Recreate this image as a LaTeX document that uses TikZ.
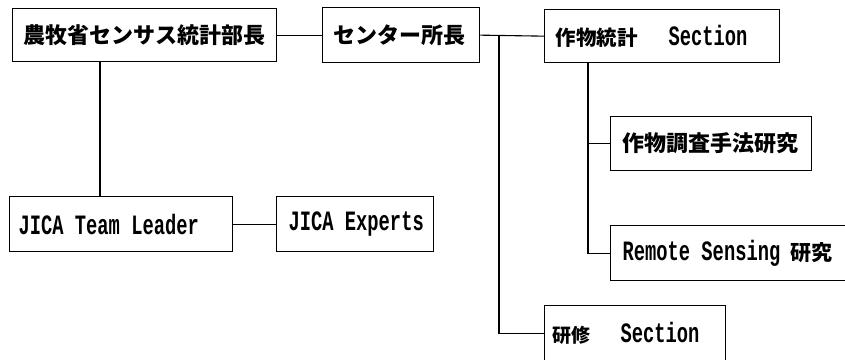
\documentclass[tikz,border=0pt]{standalone}
\usepackage{fontspec}
\newfontfamily\cjk{Noto Sans CJK JP}
\newfontfamily\latf[FakeStretch=0.67]{Liberation Mono}
\newcommand{\jtext}[2][22]{\mbox{\cjk\bfseries\fontsize{#1}{#1}\selectfont #2}}
\newcommand{\etext}[1]{\mbox{\latf\bfseries\fontsize{28}{28}\selectfont #1}}
\newcommand{\msp}{\hspace{11.3pt}}
\tikzset{
  box/.style 2 args={draw, line width=1.3pt, rectangle, anchor=north west,
    inner ysep=0pt, inner xsep=#1, text width=#2, align=left},
  conn/.style={line width=1.1pt}
}
\begin{document}
\begin{tikzpicture}[x=1pt, y=-1pt]
\useasboundingbox (0,0) rectangle (845,359);
\clip (0,0) rectangle (845,359);
\fill[white] (0,0) rectangle (845,359);

\node[box={11pt}{242pt}, minimum height=53pt] (b1) at (12,8) {\jtext[22]{農牧省センサス統計部長}};
\node[box={11pt}{135pt}, minimum height=55pt] (b2) at (322,7) {\jtext[22]{センター所長}};
\node[box={11pt}{213pt}, minimum height=53pt] (b3) at (544,9) {\jtext[20.5]{作物統計}\hspace{31pt}\etext{Section}};
\node[box={9pt}{205pt}, minimum height=55pt] (jl) at (9,196) {\etext{JICA\msp Team\msp Leader}};
\node[box={12pt}{133pt}, minimum height=55pt] (je) at (276,196) {\etext{JICA\msp Experts}};
\node[box={12pt}{177pt}, minimum height=54pt] (b4) at (610,116) {\jtext[22]{作物調査手法研究}};
\node[box={12pt}{246pt}, minimum height=55pt] (b5) at (610,225) {\etext{Remote\msp Sensing}\hspace{10pt}\jtext[21]{研究}};
\node[box={8pt}{165pt}, minimum height=55pt] (b6) at (544,305) {\jtext[19]{研修}\hspace{30pt}\etext{Section}};

\draw[conn] (b1.east) -- (b2.west);
\draw[conn] (b2.east) -- (b3.west);
\draw[conn] (b1.south -| 100,0) -- (jl.north -| 100,0);
\draw[conn] (jl.east) -- (je.west);
\draw[conn] (b2.east -| 499,0) |- (b6.west);
\draw[conn] (b3.south -| 588,0) |- (b5.west);
\draw[conn] (b4.west -| 588,0) -- (b4.west);
\end{tikzpicture}
\end{document}
